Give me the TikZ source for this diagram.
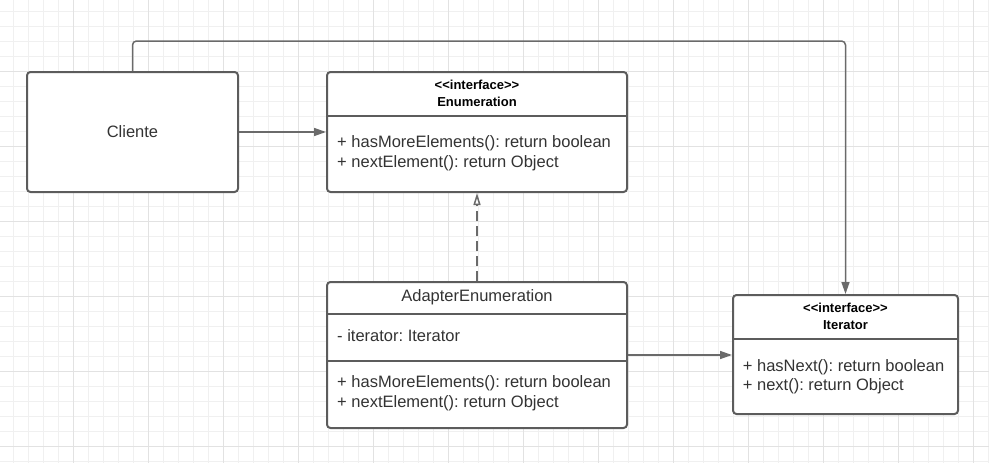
\documentclass[tikz,border=0pt]{standalone}
\usepackage{fontspec}
\setmainfont{Liberation Sans}
\usetikzlibrary{positioning, arrows.meta}
\definecolor{gridminor}{HTML}{F0F0F0}
\definecolor{gridmajor}{HTML}{E2E2E2}
\definecolor{boxgray}{HTML}{5C5C5C}
\definecolor{linegray}{HTML}{6A6A6A}
\definecolor{txtgray}{HTML}{333333}
\newcommand{\stereotext}{<\kern0pt<interface>\kern0pt>}

\begin{document}
\frenchspacing
\begin{tikzpicture}[x=1pt,y=-1pt,
    umlbox/.style={draw=boxgray, line width=2pt, rounded corners=3.5pt, fill=white, inner sep=0pt},
    divider/.style={draw=boxgray, line width=2pt},
    link/.style={draw=linegray, line width=1.5pt, -{Triangle[length=12pt,width=8pt]}},
    realize/.style={draw=linegray, line width=1.5pt, dash pattern=on 10pt off 5pt, -{Triangle[open,length=12pt,width=7pt]}},
    member/.style={anchor=base west, inner sep=0pt, text=txtgray, font=\fontsize{16.5}{20}\selectfont},
    stereo/.style={anchor=base, inner sep=0pt, font=\bfseries\fontsize{13}{16}\selectfont}]
  \useasboundingbox (0,0) rectangle (989,463);
  \fill[white] (0,0) rectangle (989,463);
  % background grid
  \foreach \gx in {13.3,28.3,...,989} \draw[gridminor, line width=1pt] (\gx,0) -- (\gx,463);
  \foreach \gy in {11.7,26.7,...,463} \draw[gridminor, line width=1pt] (0,\gy) -- (989,\gy);
  \foreach \gx in {73.3,148.3,...,989} \draw[gridmajor, line width=1pt] (\gx,0) -- (\gx,463);
  \foreach \gy in {71.7,146.7,...,463} \draw[gridmajor, line width=1pt] (0,\gy) -- (989,\gy);

  % classes
  \node [umlbox, minimum width=211pt, minimum height=120pt] (cliente) at (132.5,132) {};
  \node [text=txtgray, font=\fontsize{16.5}{20}\selectfont] (clientename) at (cliente.center) {Cliente};

  \node [umlbox, minimum width=300pt, minimum height=120pt] (enum) at (477,132) {};
  \draw [divider] (enum.west |- 0,116) -- (enum.east |- 0,116);
  \node [stereo] (enumstereo) at (477,89) {\stereotext};
  \node [stereo] (enumname) at (477,106) {Enumeration};
  \node [member] (enumop1) at (337,147.5) {+ hasMoreElements(): return boolean};
  \node [member] (enumop2) at (337,167) {+ nextElement(): return Object};

  \node [umlbox, minimum width=300pt, minimum height=146pt] (adapter) at (477,355) {};
  \draw [divider] (adapter.west |- 0,314) -- (adapter.east |- 0,314);
  \draw [divider] (adapter.west |- 0,361) -- (adapter.east |- 0,361);
  \node [member, anchor=base] (adaptername) at (477,301.5) {AdapterEnumeration};
  \node [member] (adapterattr) at (337,341.5) {- iterator: Iterator};
  \node [member] (adapterop1) at (337,387.5) {+ hasMoreElements(): return boolean};
  \node [member] (adapterop2) at (337,407.5) {+ nextElement(): return Object};

  \node [umlbox, minimum width=225pt, minimum height=119pt] (iter) at (845.5,354.5) {};
  \draw [divider] (iter.west |- 0,339) -- (iter.east |- 0,339);
  \node [stereo] (iterstereo) at (845.5,312.5) {\stereotext};
  \node [stereo] (itername) at (845.5,329) {Iterator};
  \node [member] (iterop1) at (742.7,371) {+ hasNext(): return boolean};
  \node [member] (iterop2) at (742.7,390) {+ next(): return Object};

  % relations
  \coordinate (topbend) at (500,41);
  \draw [link, rounded corners=4pt] (cliente.north) |- (topbend) -| (iter.north);
  \draw [link] (cliente.east) -- (enum.west |- cliente.east);
  \draw [link] (adapter.east) -- (iter.west |- adapter.east);
  \draw [realize] (adapter.north) -- (enum.south);
\end{tikzpicture}
\end{document}
